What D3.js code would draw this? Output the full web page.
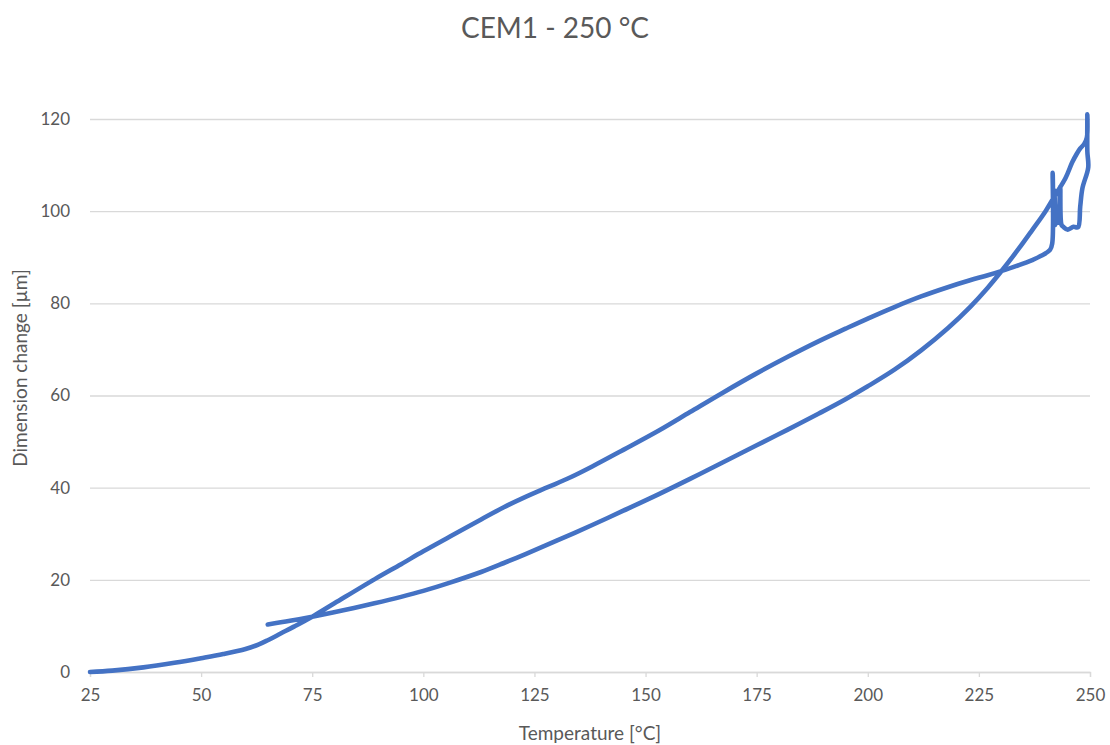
<!DOCTYPE html>
<html>
<head>
<meta charset="utf-8">
<script src="https://cdn.jsdelivr.net/npm/d3@7"></script>
<style>
  html, body { margin:0; padding:0; background:#fff; }
  svg { display:block; font-family: Lato, "Open Sans", sans-serif; }
</style>
</head>
<body>
<svg id="chart" width="1110" height="745"></svg>
<script>
/* CEM1 - 250 °C : dilatometría, calentamiento y enfriamiento en una sola traza */

const title = "CEM1 - 250 °C";
const xLabel = "Temperature [°C]";
const yLabel = "Dimension change [µm]";

const xTicks = [25, 50, 75, 100, 125, 150, 175, 200, 225, 250];
const yTicks = [0, 20, 40, 60, 80, 100, 120];

// Temperatura [°C], en el orden de la medición
const temperature = [
  25, 30, 37, 44, 50, 55, 60, 63, 65, 68, 71, 75, 80, 89, 95, 100, 106, 113, 118, 123,
  128, 133, 138, 145, 153, 160, 167, 175, 182, 189, 195, 200, 206, 212, 218, 223, 227,
  230, 234, 237, 239, 241, 241.5,
  241.6, 241.8, 242.0, 242.2, 242.5, 242.9, 243.3, 243.6, 244, 245, 246.3, 247.3, 247.8,
  248.3, 249.6, 249.4, 249.4, 249.3, 248.7, 247.8,
  247, 246, 244.5, 242, 240, 237, 234, 230, 227, 223, 218, 212, 206, 200, 195, 189, 182,
  175, 167, 160, 153, 145, 138, 130, 123, 118, 113, 106, 100, 95, 89, 82, 75, 70, 65
];

// Cambio dimensional [µm]
const dimension = [
  0, 0.3, 1.0, 2.0, 3.0, 3.9, 5.0, 6.0, 6.9, 8.4, 9.9, 12.0, 14.9, 20.1, 23.4, 26.2, 29.4, 33.1, 35.7, 38.0,
  40.1, 42.2, 44.6, 48.2, 52.4, 56.4, 60.4, 64.8, 68.4, 71.8, 74.5, 76.7, 79.2, 81.5, 83.5, 85.0, 86.1,
  87.0, 88.3, 89.4, 90.3, 91.6, 93.0,
  108.3, 97.7, 104.5, 97.0, 101.0, 97.5, 105.3, 97.0, 96.6, 96.0, 96.6, 96.5, 101.0,
  105.0, 109.5, 113.0, 121.0, 116.0, 114.6, 113.6,
  112.4, 110.6, 107.2, 103.2, 100.0, 95.9, 91.9, 86.9, 83.4, 79.2, 74.6, 69.8, 65.6, 62.0, 59.2, 56.1, 52.6,
  49.2, 45.3, 41.9, 38.6, 35.0, 31.9, 28.5, 25.6, 23.6, 21.7, 19.4, 17.6, 16.3, 14.9, 13.4, 12.0, 11.1, 10.3
];

const points = temperature.map((t, i) => ({ t, v: dimension[i] }));

const svg = d3.select("#chart");
const margin = { left: 90, right: 20, top: 119, bottom: 73 };
const width = 1110, height = 745;

const x = d3.scaleLinear().domain([25, 250]).range([margin.left, width - margin.right]);
const y = d3.scaleLinear().domain([0, 120]).range([height - margin.bottom, margin.top]);

const textColor = "#595959";

// rejilla horizontal
svg.append("g")
  .attr("class", "grid")
  .attr("transform", `translate(${margin.left},0)`)
  .call(d3.axisLeft(y).tickValues(yTicks).tickSize(-(width - margin.left - margin.right)).tickFormat(""))
  .call(g => g.select(".domain").remove())
  .call(g => g.selectAll("line").attr("stroke", "#d9d9d9").attr("stroke-width", 1.3));

// etiquetas eje Y
svg.append("g")
  .attr("transform", `translate(${margin.left},0)`)
  .call(d3.axisLeft(y).tickValues(yTicks).tickSize(0).tickPadding(20))
  .call(g => g.select(".domain").remove())
  .call(g => g.selectAll("text")
    .attr("fill", textColor).style("font-size", "17px").style("font-family", "Lato, sans-serif"));

// eje X
svg.append("g")
  .attr("transform", `translate(0,${y(0)})`)
  .call(d3.axisBottom(x).tickValues(xTicks).tickSize(5).tickPadding(12))
  .call(g => g.select(".domain").attr("stroke", "#d9d9d9").attr("stroke-width", 1.3))
  .call(g => g.selectAll(".tick line").attr("stroke", "#d9d9d9").attr("stroke-width", 1.3))
  .call(g => g.selectAll("text")
    .attr("fill", textColor).style("font-size", "17px").style("font-family", "Lato, sans-serif"));

// la traza
const line = d3.line()
  .x(d => x(d.t))
  .y(d => y(d.v))
  .curve(d3.curveCatmullRom.alpha(0.5));

svg.append("path")
  .datum(points)
  .attr("d", line)
  .attr("fill", "none")
  .attr("stroke", "#4472c4")
  .attr("stroke-width", 4.6)
  .attr("stroke-linejoin", "round")
  .attr("stroke-linecap", "round");

// títulos
svg.append("text")
  .attr("x", 555).attr("y", 38)
  .attr("text-anchor", "middle")
  .attr("fill", textColor)
  .style("font-size", "28px")
  .text(title);

svg.append("text")
  .attr("x", x((25 + 250) / 2)).attr("y", 740)
  .attr("text-anchor", "middle")
  .attr("fill", textColor)
  .style("font-size", "19px")
  .text(xLabel);

svg.append("text")
  .attr("transform", `translate(27,368) rotate(-90)`)
  .attr("text-anchor", "middle")
  .attr("fill", textColor)
  .style("font-size", "19px")
  .text(yLabel);
</script>
</body>
</html>
